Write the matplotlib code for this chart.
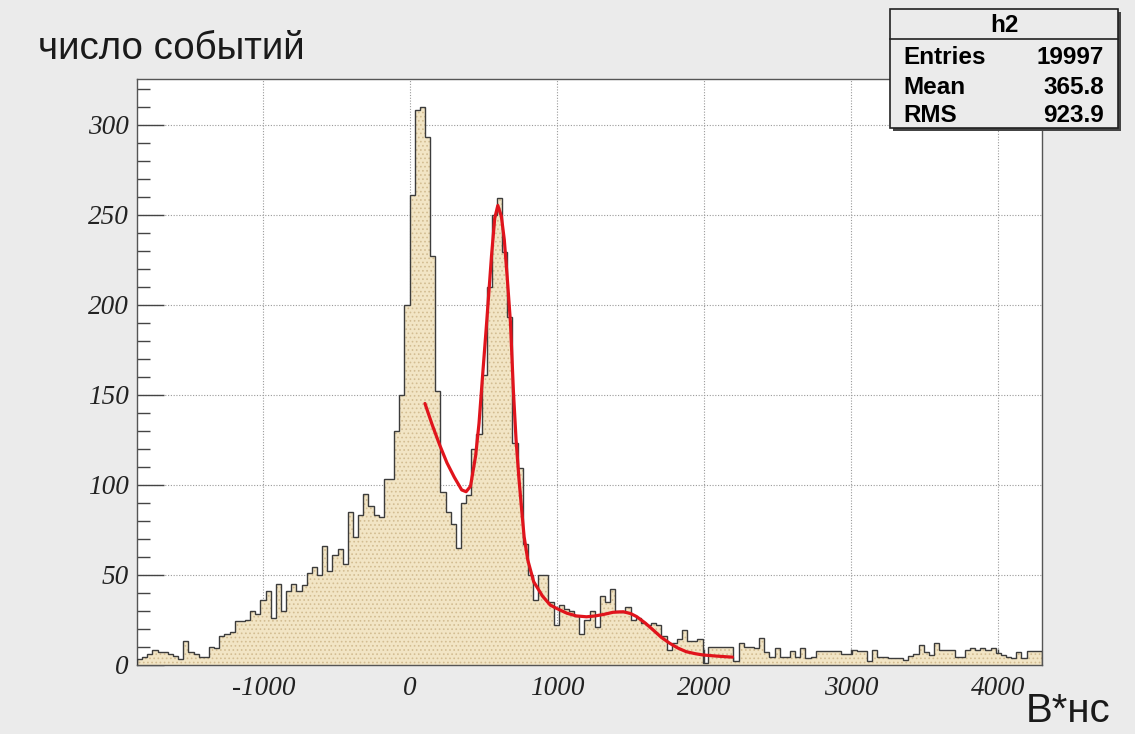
import numpy as np
import matplotlib
matplotlib.use("Agg")
import matplotlib.pyplot as plt
from matplotlib.patches import Rectangle
from matplotlib.ticker import MultipleLocator, FuncFormatter

# ---------------- data ----------------
x_min = -1860.0
x_max = 4300.0
bin_width = 35.0

counts = [
    3, 4, 6, 8, 7, 7, 6, 5, 3, 13, 7, 6, 4, 4, 10, 9, 16, 17, 18, 24,
    24, 25, 30, 28, 36, 41, 26, 45, 30, 41, 45, 41, 44, 51, 54, 50, 66, 52, 61, 64,
    56, 85,
    71, 83, 95, 88, 83, 82, 103, 103, 130, 150, 200, 261, 308, 310, 293, 227, 152, 96, 85, 78,
    65, 90, 94, 120, 128, 161, 210, 250, 259, 229, 193, 123, 109, 67, 50, 36, 50, 50, 35, 22,
    33, 31, 30, 27, 17, 25, 30, 21, 38, 35, 42, 30, 29, 32, 25, 26, 23, 22, 23, 22,
    16, 8, 12, 14, 19, 13, 13, 14, 1, 10, 10, 10, 10, 10, 2, 12, 10, 10, 9, 15,
    7, 4, 9, 4, 4, 7.5, 4.4, 9, 3.4, 4.4, 7.5, 7.5, 7.5, 7.5, 7.5, 6, 6, 8, 7.5, 7.5,
    2, 8, 4.4, 4, 3.4, 3.4, 3.4, 2.5, 5, 6, 11, 7, 5.3, 12, 8, 8, 8, 4.4, 4.4, 8,
    9, 8, 9, 8, 9, 6.2, 5.3, 4.4, 3.8, 7, 3.4, 7.5, 7.5, 7.5,
]

fit_x = [100, 150, 200, 250, 300, 350, 380, 410, 445, 468, 490, 520, 553, 575,
         596, 620, 640, 660, 682, 702, 720, 740, 756, 775, 800, 840, 900, 953, 1000,
         1066, 1130, 1200, 1260, 1315, 1380, 1450, 1500, 1541, 1600, 1653, 1710, 1766,
         1820, 1879, 1940, 1992, 2080, 2150, 2193]
fit_y = [145, 133, 122, 112, 104, 97, 96, 99, 116, 134, 158, 190, 227, 248,
         255, 249, 236, 215, 190, 152, 125, 103, 88, 71, 58, 46, 38, 33, 31,
         28.5, 27, 26.5, 27, 27.8, 29, 29.3, 28.3, 26.6, 23, 19.2, 15, 11.8,
         9.2, 7.1, 6, 5.3, 4.7, 4.3, 4.1]

y_label = "число событий"
x_label = "В*нс"
stats_title = "h2"
stats_names = ["Entries", "Mean", "RMS"]
stats_values = ["19997", "365.8", "923.9"]

# ---------------- figure ----------------
W, H = 1135, 734
fig = plt.figure(figsize=(W / 100, H / 100), dpi=100)
fig.patch.set_facecolor("#ebebeb")

ax = fig.add_axes([137 / W, 1 - 664.5 / H, (1042 - 137) / W, (664.5 - 78.6) / H])
ax.set_facecolor("white")

n = len(counts)
edges = x_min + bin_width * np.arange(n + 1)
vals = np.array(counts, dtype=float)

plt.rcParams["hatch.linewidth"] = 0.7
ax.stairs(vals, edges, fill=True, facecolor="#f2e5c5", edgecolor="#d3bd92",
          hatch="....", linewidth=0, zorder=2)
ax.stairs(vals, edges, fill=False, color="#3c3c3c", linewidth=1.0, zorder=3)

ax.plot(fit_x, fit_y, color="#e0141c", linewidth=2.3, zorder=4,
        solid_joinstyle="round", solid_capstyle="round")

ax.set_xlim(x_min, x_max)
ax.set_ylim(0, 325.5)

ax.xaxis.set_major_locator(MultipleLocator(1000))
ax.xaxis.set_minor_locator(MultipleLocator(200))
ax.yaxis.set_major_locator(MultipleLocator(50))
ax.yaxis.set_minor_locator(MultipleLocator(10))

ax.grid(True, which="major", linestyle=(0, (1, 1.5)), color="#9a9a9a", linewidth=0.8, zorder=1)
ax.set_axisbelow(True)

ax.tick_params(axis="x", which="major", direction="in", length=11.5, width=1.0, color="#444444",
               pad=8, labelsize=19.5)
ax.tick_params(axis="x", which="minor", direction="in", length=5.8, width=1.0, color="#444444")
ax.tick_params(axis="y", which="major", direction="in", length=19.5, width=1.0, color="#444444",
               pad=6, labelsize=19.5)
ax.tick_params(axis="y", which="minor", direction="in", length=9.5, width=1.0, color="#444444")

def fmt(v, pos):
    return "%d" % v
ax.xaxis.set_major_formatter(FuncFormatter(fmt))
ax.yaxis.set_major_formatter(FuncFormatter(fmt))
for lab in ax.get_xticklabels() + ax.get_yticklabels():
    lab.set_family("Liberation Serif")
    lab.set_style("italic")
    lab.set_color("#222222")

for s in ax.spines.values():
    s.set_color("#555555")
    s.set_linewidth(1.0)

fig.text(38 / W, 1 - 49 / H, y_label, fontsize=27.7, family="Liberation Sans",
         ha="left", va="center", color="#1a1a1a")
fig.text(1110 / W, 1 - 711 / H, x_label, fontsize=29, family="Liberation Sans",
         ha="right", va="center", color="#1a1a1a")

# stats box
bx0, bx1 = 890 / W, 1118 / W
by0, by1 = 1 - 128 / H, 1 - 9 / H
shadow = Rectangle((bx0 + 2.5 / W, by0 - 2.5 / H), bx1 - bx0, by1 - by0, transform=fig.transFigure,
                   facecolor="#444444", edgecolor="none", zorder=9)
fig.add_artist(shadow)
box = Rectangle((bx0, by0), bx1 - bx0, by1 - by0, transform=fig.transFigure,
                facecolor="#ebebeb", edgecolor="#222222", linewidth=1.2, zorder=10)
fig.add_artist(box)
fig.add_artist(plt.Line2D([bx0, bx1], [1 - 39 / H, 1 - 39 / H], transform=fig.transFigure,
                          color="#222222", linewidth=1.2, zorder=11))
fig.text((bx0 + bx1) / 2, 1 - 25 / H, stats_title, fontsize=17.5, weight="bold",
         family="Liberation Sans", ha="center", va="center", zorder=12)
row_y = [58, 87, 116]
for name, val, yy in zip(stats_names, stats_values, row_y):
    fig.text(903 / W, 1 - yy / H, name, fontsize=17.5, weight="bold",
             family="Liberation Sans", ha="left", va="center", zorder=12)
    fig.text(1104 / W, 1 - yy / H, val, fontsize=17.5, weight="bold",
             family="Liberation Sans", ha="right", va="center", zorder=12)

fig.savefig("out.png", dpi=100, facecolor=fig.get_facecolor())
